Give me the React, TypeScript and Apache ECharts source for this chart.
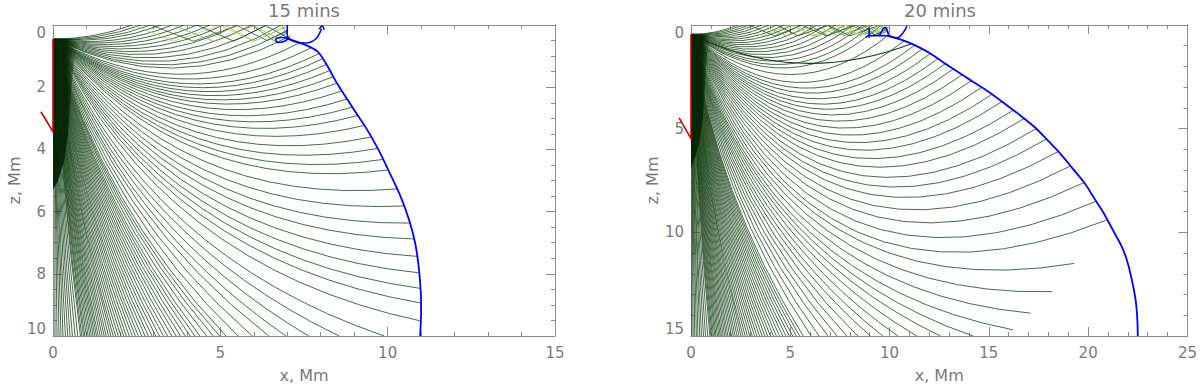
import React, { useEffect, useRef } from "react";
import * as echarts from "echarts";

// ---------- shared ----------
const SRC = [0.05, 0.45]; // ray source point [x, z] (Mm)
const RAY_COLOR = "#1a451a";
const ZZ_COLORS = ["#b3d166", "#2f5f25", "#86b050", "#1f4a1a", "#9cc45c", "#3c6e2c", "#5a8a3c"];

// ---------- panel 1 : 15 mins ----------
// rays reflected at the surface: [x where they touch z=0, ctrlX, ctrlZ]
const surfaceRays15 = [
  [2.37, 1.23, 0.45], [2.63, 1.36, 0.5], [2.92, 1.51, 0.57], [3.23, 1.67, 0.64], [3.57, 1.85, 0.74],
  [3.93, 2.04, 0.85], [4.3, 2.23, 0.97], [4.69, 2.43, 1.11], [5.1, 2.64, 1.27], [5.52, 2.86, 1.45],
  [5.94, 3.08, 1.64], [6.38, 3.31, 1.86], [6.82, 3.53, 2.09],
];
// rays ending on the wave front: [endX, endZ, ctrlX, ctrlZ]
const frontRays15 = [
  [7.0, 0.17, 3.58, 2.25], [7.1, 0.35, 3.58, 2.37], [7.35, 0.58, 3.69, 2.65], [7.7, 0.74, 3.79, 2.87],
  [7.95, 0.92, 3.86, 3.08], [8.05, 1.09, 3.88, 3.22], [8.17, 1.27, 3.89, 3.36], [8.28, 1.46, 3.9, 3.49],
  [8.38, 1.66, 3.89, 3.62], [8.49, 1.87, 3.86, 3.73], [8.63, 2.12, 3.86, 3.89], [8.79, 2.38, 3.86, 4.07],
  [8.95, 2.64, 3.86, 4.24], [9.11, 2.91, 3.85, 4.42], [9.31, 3.23, 3.85, 4.63], [9.51, 3.6, 3.84, 4.87],
  [9.7, 3.97, 3.82, 5.09], [9.88, 4.32, 3.81, 5.31], [10.03, 4.66, 3.79, 5.51], [10.3, 5.27, 3.75, 5.85],
  [10.5, 5.82, 3.71, 6.15], [10.65, 6.37, 3.65, 6.43], [10.8, 6.88, 3.6, 6.68], [10.88, 7.44, 3.53, 6.92],
  [10.95, 7.97, 3.46, 7.15], [10.98, 8.47, 3.39, 7.34], [11.0, 8.94, 3.32, 7.53], [11.0, 9.52, 3.23, 7.74],
];
// rays leaving through the bottom (z = 10): [endX, ctrlX, ctrlZ]
const bottomRays15 = [
  [9.9, 2.84, 7.41], [8.55, 2.46, 6.86], [7.64, 2.2, 6.53], [6.96, 2.0, 6.3], [6.45, 1.85, 6.15],
  [5.96, 1.71, 6.02], [5.53, 1.59, 5.91], [5.17, 1.49, 5.82], [4.98, 1.43, 5.78], [4.79, 1.38, 5.74],
  [4.59, 1.32, 5.7], [4.39, 1.26, 5.65], [4.24, 1.22, 5.62], [4.1, 1.18, 5.6], [3.95, 1.14, 5.57],
  [3.81, 1.1, 5.55], [3.68, 1.06, 5.53], [3.55, 1.02, 5.51], [3.42, 0.98, 5.49], [3.3, 0.95, 5.48],
  [3.18, 0.91, 5.46], [3.07, 0.88, 5.45], [2.96, 0.85, 5.44], [2.85, 0.82, 5.43], [2.75, 0.79, 5.42],
  [2.65, 0.76, 5.41], [2.55, 0.73, 5.4], [2.46, 0.71, 5.39], [2.37, 0.68, 5.38], [2.28, 0.66, 5.37],
  [2.19, 0.63, 5.36], [2.11, 0.61, 5.36], [2.03, 0.58, 5.35], [1.95, 0.56, 5.34], [1.87, 0.54, 5.33],
  [1.8, 0.52, 5.33], [1.73, 0.5, 5.32], [1.66, 0.48, 5.32], [1.59, 0.46, 5.31], [1.53, 0.44, 5.31],
  [1.47, 0.42, 5.3], [1.41, 0.41, 5.3], [1.35, 0.39, 5.29], [1.3, 0.38, 5.29], [1.25, 0.36, 5.28],
  [1.2, 0.35, 5.28], [1.15, 0.33, 5.27], [1.1, 0.32, 5.27], [1.05, 0.3, 5.27], [1.0, 0.29, 5.26],
  [0.95, 0.28, 5.26], [0.91, 0.27, 5.26], [0.86, 0.25, 5.25], [0.82, 0.24, 5.25], [0.74, 0.22, 5.25],
  [0.66, 0.2, 5.24], [0.58, 0.18, 5.24], [0.51, 0.16, 5.24], [0.44, 0.14, 5.23], [0.37, 0.12, 5.23],
  [0.3, 0.1, 5.23], [0.24, 0.08, 5.23], [0.18, 0.07, 5.23], [0.12, 0.06, 5.23], [0.06, 0.05, 5.23],
];
// outline of the saturated dark zone next to the source line
const darkZone15 = [
  [0, 0.45], [0.65, 0.45], [0.75, 0.58], [0.6, 1.4], [0.52, 2.5], [0.45, 3.5], [0.35, 4.3], [0.15, 5.0], [0, 5.3],
];
const zigzags15 = [
  [[2.37, 0], [3.6, 0.52], [5.0, 0.02], [6.0, 0.52], [6.95, 0.08]],
  [[2.92, 0], [4.2, 0.52], [5.5, 0.02], [6.4, 0.5], [7.0, 0.2]],
  [[3.57, 0], [4.8, 0.52], [6.0, 0.02], [6.8, 0.48]],
  [[4.3, 0], [5.4, 0.52], [6.36, 0.02], [7.0, 0.4]],
  [[5.1, 0], [6.0, 0.52], [6.95, 0.05]],
  [[5.94, 0], [6.6, 0.5], [7.0, 0.25]],
  [[6.82, 0], [7.0, 0.3]],
];
const front15 = [
  [6.95, 0.42], [7.45, 0.6], [7.9, 0.85], [8.2, 1.32], [8.5, 1.9], [8.95, 2.65], [9.35, 3.3], [9.72, 4.0],
  [10.08, 4.8], [10.4, 5.55], [10.65, 6.3], [10.82, 7.0], [10.93, 7.8], [10.99, 8.6], [11.0, 9.2], [10.97, 10],
];
const cusp15 = [
  [[7.0, 0.0], [7.0, 0.42]],
  [[7.02, 0.42], [6.82, 0.4], [6.66, 0.46], [6.7, 0.56], [6.9, 0.53], [7.05, 0.42]],
  [[7.0, 0.38], [7.2, 0.53], [7.55, 0.58], [7.85, 0.45], [8.02, 0.12]],
  [[7.95, 0.13], [8.05, 0.03], [8.1, 0.16]],
];
const redLine15 = [[-0.36, 2.79], [0, 3.43], [0, 0.45]];

// ---------- panel 2 : 20 mins ----------
const surfaceRays20 = [
  [2.37, 1.23, 0.45], [2.63, 1.36, 0.5], [2.92, 1.51, 0.57], [3.23, 1.67, 0.64], [3.57, 1.85, 0.74],
  [3.93, 2.04, 0.85], [4.3, 2.23, 0.97], [4.69, 2.43, 1.11], [5.1, 2.64, 1.27], [5.52, 2.86, 1.45],
  [5.94, 3.08, 1.64], [6.38, 3.31, 1.86], [6.82, 3.53, 2.09], [7.27, 3.77, 2.35], [7.73, 4.0, 2.62],
  [8.18, 4.24, 2.91], [8.65, 4.48, 3.23], [9.12, 4.73, 3.57], [9.58, 4.96, 3.91],
];
const frontRays20 = [
  [10.0, 0.45, 5.0, 4.33], [10.75, 0.75, 5.23, 4.94], [11.3, 0.95, 5.39, 5.38], [11.65, 1.15, 5.5, 5.75],
  [12.05, 1.38, 5.62, 6.16], [12.43, 1.62, 5.71, 6.54], [12.8, 1.87, 5.77, 6.88], [13.2, 2.13, 5.84, 7.27],
  [13.65, 2.4, 5.93, 7.7], [14.1, 2.7, 6.02, 8.18], [14.65, 3.0, 6.12, 8.67], [15.15, 3.35, 6.19, 9.16],
  [15.65, 3.7, 6.25, 9.66], [16.25, 4.1, 6.32, 10.2], [16.8, 4.5, 6.37, 10.75], [17.38, 5.0, 6.43, 11.38],
  [17.9, 5.5, 6.45, 11.95], [18.5, 6.1, 6.43, 12.5], [19.1, 6.8, 6.42, 13.15], [19.8, 7.6, 6.35, 13.75],
  [20.4, 8.5, 6.28, 14.41], [20.95, 9.4, 6.2, 15.02],
  [19.3, 11.5, 5.2, 13.75], [18.2, 12.86, 4.64, 13.2], [17.1, 13.9, 4.19, 12.73], [16.2, 14.7, 3.85, 12.41],
];
// the darker ray near the top of the 20-min panel: [endX, endZ, ctrlX, ctrlZ]
const boldRay20 = [[11.1, 0.9, 5.3, 3.0]];
// rays leaving through the bottom (z = 15): [endX, ctrlX, ctrlZ]
const bottomRays20 = [
  [14.2, 3.34, 11.4], [12.56, 2.95, 10.6], [11.37, 2.67, 10.08], [10.42, 2.45, 9.7], [9.66, 2.27, 9.43],
  [9.04, 2.12, 9.21], [8.4, 1.97, 9.01], [7.85, 1.85, 8.85], [7.35, 1.73, 8.71], [6.9, 1.62, 8.59],
  [6.45, 1.52, 8.48], [6.05, 1.42, 8.39], [5.65, 1.33, 8.31], [5.47, 1.29, 8.27], [5.3, 1.25, 8.24],
  [5.12, 1.2, 8.2], [4.95, 1.16, 8.17], [4.78, 1.12, 8.14], [4.62, 1.09, 8.12], [4.46, 1.05, 8.09],
  [4.3, 1.01, 8.06], [4.15, 0.97, 8.04], [4.0, 0.94, 8.02], [3.86, 0.9, 8.0], [3.72, 0.87, 7.98],
  [3.58, 0.84, 7.96], [3.45, 0.81, 7.95], [3.32, 0.78, 7.93], [3.2, 0.75, 7.92], [3.08, 0.72, 7.9],
  [2.96, 0.69, 7.89], [2.84, 0.66, 7.88], [2.73, 0.64, 7.87], [2.62, 0.61, 7.86], [2.52, 0.59, 7.85],
  [2.42, 0.57, 7.84], [2.32, 0.54, 7.83], [2.22, 0.52, 7.82], [2.13, 0.5, 7.81], [2.04, 0.48, 7.8],
  [1.95, 0.46, 7.8], [1.86, 0.44, 7.79], [1.78, 0.42, 7.79], [1.7, 0.4, 7.78], [1.62, 0.38, 7.78],
  [1.54, 0.36, 7.77], [1.47, 0.35, 7.77], [1.4, 0.33, 7.76], [1.33, 0.31, 7.76], [1.26, 0.3, 7.75],
  [1.2, 0.28, 7.75], [1.13, 0.27, 7.75], [1.07, 0.25, 7.75], [1.01, 0.24, 7.74], [0.95, 0.22, 7.74],
  [0.84, 0.2, 7.74], [0.73, 0.17, 7.73], [0.63, 0.15, 7.73], [0.53, 0.12, 7.73], [0.44, 0.1, 7.73],
  [0.35, 0.08, 7.73], [0.27, 0.07, 7.72], [0.19, 0.06, 7.72], [0.11, 0.05, 7.72], [0.04, 0.05, 7.72],
];
const darkZone20 = [
  [0, 0.45], [0.9, 0.45], [1.0, 0.6], [0.8, 1.5], [0.7, 3.0], [0.6, 4.5], [0.45, 5.5], [0.2, 6.4], [0, 6.9],
];
const zigzags20 = [
  [[2.37, 0], [3.6, 0.52], [5.0, 0.02], [6.3, 0.52], [7.8, 0.02], [8.9, 0.5], [9.9, 0.1]],
  [[2.92, 0], [4.2, 0.52], [5.6, 0.02], [6.8, 0.52], [8.3, 0.02], [9.3, 0.5], [9.9, 0.3]],
  [[3.57, 0], [4.8, 0.52], [6.3, 0.02], [7.4, 0.52], [8.97, 0.02], [9.8, 0.5]],
  [[4.3, 0], [5.4, 0.52], [6.9, 0.02], [8.0, 0.52], [9.5, 0.02], [9.95, 0.35]],
  [[5.1, 0], [6.1, 0.52], [7.5, 0.02], [8.5, 0.52], [9.9, 0.05]],
  [[5.94, 0], [6.9, 0.52], [8.1, 0.02], [9.1, 0.52], [9.95, 0.2]],
  [[6.82, 0], [7.7, 0.52], [8.8, 0.02], [9.6, 0.5]],
  [[7.73, 0], [8.5, 0.52], [9.5, 0.02], [9.95, 0.3]],
  [[8.65, 0], [9.3, 0.5], [9.95, 0.1]],
  [[9.58, 0], [9.95, 0.4]],
];
const front20 = [
  [9.9, 0.52], [10.5, 0.68], [11.1, 0.9], [11.97, 1.33], [12.98, 1.98], [13.9, 2.55], [14.8, 3.1],
  [15.6, 3.65], [16.5, 4.3], [17.3, 4.92], [18.0, 5.6], [18.6, 6.2], [19.2, 6.9], [19.8, 7.6],
  [20.3, 8.35], [20.8, 9.1], [21.25, 9.9], [21.7, 10.7], [22.0, 11.5], [22.2, 12.3], [22.38, 13.2],
  [22.47, 14.1], [22.5, 15],
];
const cusp20 = [
  [[8.97, 0.15], [8.97, 0.62]],
  [[8.8, 0.6], [8.97, 0.52], [9.97, 0.52]],
  [[9.5, 0.5], [9.77, 0.12], [9.95, 0.5]],
  [[9.97, 0.52], [10.35, 0.62], [10.7, 0.35], [10.87, 0.05]],
];
const redLine20 = [[-0.6, 4.48], [0, 5.48], [0, 0.45]];

// ---------- layout ----------
const GRIDS = [
  { left: 53, top: 25, width: 502, height: 315 },
  { left: 691, top: 25, width: 499, height: 315 },
];
const AXIS_COLOR = "#8c8c8c";
const LABEL_COLOR = "#7a7a7a";
const FONT = "DejaVu Sans";

function buildRays(surface, front, bottom, bottomZ) {
  const rows = [];
  surface.forEach((r) => rows.push([SRC[0], SRC[1], r[1], r[2], r[0], 0]));
  front.forEach((r) => rows.push([SRC[0], SRC[1], r[2], r[3], r[0], r[1]]));
  bottom.forEach((r) => rows.push([SRC[0], SRC[1], r[1], r[2], r[0], bottomZ]));
  return rows;
}

function axes(gridIndex, xMax, yMax, yInterval, yMinorSplit) {
  const tickLine = { color: AXIS_COLOR, width: 1 };
  const baseX = {
    type: "value", gridIndex, min: 0, max: xMax, interval: 5,
    axisLine: { show: true, onZero: false, lineStyle: tickLine },
    axisTick: { show: true, inside: true, length: 9, lineStyle: tickLine },
    minorTick: { show: true, splitNumber: 5, length: 4, lineStyle: tickLine },
    splitLine: { show: false },
  };
  const baseY = {
    type: "value", gridIndex, min: 0, max: yMax, interval: yInterval, inverse: true,
    axisLine: { show: true, onZero: false, lineStyle: tickLine },
    axisTick: { show: true, inside: true, length: 9, lineStyle: tickLine },
    minorTick: { show: true, splitNumber: yMinorSplit, length: 4, lineStyle: tickLine },
    splitLine: { show: false },
  };
  const label = { color: LABEL_COLOR, fontSize: 15, fontFamily: FONT };
  const nameStyle = { color: LABEL_COLOR, fontSize: 16, fontFamily: FONT };
  return {
    x: [
      { ...baseX, position: "bottom", axisLabel: { ...label, margin: 9 }, name: "x, Mm", nameLocation: "middle", nameGap: 31, nameTextStyle: nameStyle },
      { ...baseX, position: "top", axisLabel: { show: false } },
    ],
    y: [
      { ...baseY, position: "left", axisLabel: { ...label, margin: 7, verticalAlignMinLabel: "top", verticalAlignMaxLabel: "bottom" }, name: "z, Mm", nameLocation: "middle", nameGap: 31, nameTextStyle: nameStyle },
      { ...baseY, position: "right", axisLabel: { show: false } },
    ],
  };
}

function polylineSeries(xi, yi, pts, color, width) {
  return {
    type: "custom", xAxisIndex: xi, yAxisIndex: yi, clip: false, silent: true, z: 5,
    data: [pts[0]],
    renderItem: (params, api) => ({
      type: "polyline",
      shape: { points: pts.map((p) => api.coord(p)) },
      style: { stroke: color, lineWidth: width, fill: null },
    }),
  };
}

function darkZoneSeries(xi, yi, pts) {
  return {
    type: "custom", xAxisIndex: xi, yAxisIndex: yi, clip: true, silent: true, z: 3,
    data: [pts[0]],
    renderItem: (params, api) => ({
      type: "polygon",
      shape: { points: pts.map((p) => api.coord(p)) },
      style: {
        fill: new echarts.graphic.LinearGradient(0, 0, 1, 0, [
          { offset: 0, color: "rgba(4,36,4,1)" },
          { offset: 0.55, color: "rgba(4,36,4,0.9)" },
          { offset: 1, color: "rgba(4,36,4,0)" },
        ]),
        stroke: null,
      },
    }),
  };
}

function bezierSeries(xi, yi, rows, color, width, z) {
  return {
    type: "custom", xAxisIndex: xi, yAxisIndex: yi, clip: true, silent: true, z,
    data: rows,
    encode: { x: [0, 2, 4], y: [1, 3, 5] },
    renderItem: (params, api) => {
      const a = api.coord([api.value(0), api.value(1)]);
      const c = api.coord([api.value(2), api.value(3)]);
      const b = api.coord([api.value(4), api.value(5)]);
      return {
        type: "bezierCurve",
        shape: { x1: a[0], y1: a[1], x2: b[0], y2: b[1], cpx1: c[0], cpy1: c[1] },
        style: { stroke: color, lineWidth: width, fill: null },
      };
    },
  };
}

function panelSeries(p, rays, bold, darkZone, zigzags, front, cusps, redLine) {
  const xi = p * 2;
  const yi = p * 2;
  const s = [];
  s.push(bezierSeries(xi, yi, rays, RAY_COLOR, 0.8, 2));
  if (bold.length) s.push(bezierSeries(xi, yi, bold.map((r) => [SRC[0], SRC[1], r[2], r[3], r[0], r[1]]), "#153f15", 1.1, 2));
  s.push(darkZoneSeries(xi, yi, darkZone));
  zigzags.forEach((z, i) => {
    s.push({
      type: "line", xAxisIndex: xi, yAxisIndex: yi, data: z, showSymbol: false, silent: true, clip: true,
      lineStyle: { color: ZZ_COLORS[i % ZZ_COLORS.length], width: 0.8 },
    });
  });
  s.push({
    type: "line", xAxisIndex: xi, yAxisIndex: yi, data: front, showSymbol: false, silent: true, smooth: 0.3,
    lineStyle: { color: "#0000ff", width: 1.8 },
  });
  cusps.forEach((c) => {
    s.push({
      type: "line", xAxisIndex: xi, yAxisIndex: yi, data: c, showSymbol: false, silent: true, smooth: 0.4,
      lineStyle: { color: "#0000ff", width: 1.6 },
    });
  });
  s.push(polylineSeries(xi, yi, redLine, "#d00000", 1.6));
  return s;
}

export default function App() {
  const ref = useRef(null);
  useEffect(() => {
    const chart = echarts.init(ref.current, null, { renderer: "svg" });
    const a1 = axes(0, 15, 10, 2, 4);
    const a2 = axes(1, 25, 15, 5, 5);
    const rays15 = buildRays(surfaceRays15, frontRays15, bottomRays15, 10);
    const rays20 = buildRays(surfaceRays20, frontRays20, bottomRays20, 15);
    chart.setOption({
      animation: false,
      backgroundColor: "#ffffff",
      grid: GRIDS,
      xAxis: [...a1.x, ...a2.x],
      yAxis: [...a1.y, ...a2.y],
      graphic: [
        { type: "text", style: { text: "15 mins", x: 304, y: 1, textAlign: "center", textVerticalAlign: "top", fontSize: 18, fontFamily: FONT, fill: LABEL_COLOR } },
        { type: "text", style: { text: "20 mins", x: 940, y: 1, textAlign: "center", textVerticalAlign: "top", fontSize: 18, fontFamily: FONT, fill: LABEL_COLOR } },
      ],
      series: [
        ...panelSeries(0, rays15, [], darkZone15, zigzags15, front15, cusp15, redLine15),
        ...panelSeries(1, rays20, boldRay20, darkZone20, zigzags20, front20, cusp20, redLine20),
      ],
    });
    return () => chart.dispose();
  }, []);
  return <div ref={ref} style={{ position: "absolute", left: 0, top: 0, width: 1200, height: 388 }} />;
}
